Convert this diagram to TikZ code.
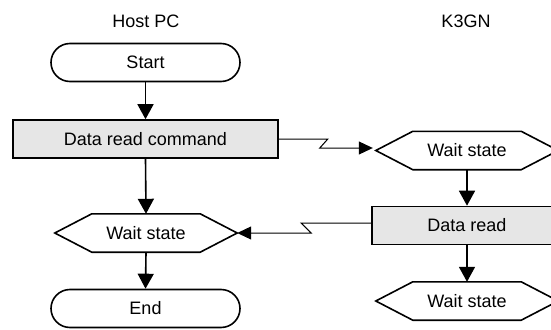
\documentclass[tikz,border=0pt]{standalone}
\usepackage{fontspec}
\setmainfont{Liberation Sans}
\usetikzlibrary{arrows.meta,shapes.misc,calc}
\definecolor{procgray}{RGB}{230,230,230}
\newcommand\hexshape[1]{\draw[hexline] (#1.west) -- ([xshift=37pt]#1.north west) -- ([xshift=-37pt]#1.north east) -- (#1.east) -- ([xshift=-37pt]#1.south east) -- ([xshift=37pt]#1.south west) -- cycle;}
\begin{document}
\begin{tikzpicture}[x=1pt,y=-1pt,
  every node/.style={font=\fontsize{18}{21.6}\selectfont, inner sep=0pt},
  term/.style={rounded rectangle, draw, line width=1.6pt, minimum width=189pt, minimum height=38pt},
  proc/.style={rectangle, draw, line width=1.6pt, fill=procgray, minimum height=38pt},
  hexa/.style={rectangle, minimum width=182pt, minimum height=38pt},
  hexline/.style={draw, line width=1.6pt, line join=miter},
  flow/.style={line width=1.6pt, -{Triangle[width=16pt,length=15pt]}},
  link/.style={line width=1pt, -{Triangle[width=13pt,length=14pt]}}
]
\clip (0,0) rectangle (551,329);
\fill[white] (0,0) rectangle (551,329);

\node (lhost) at (146,21) {Host PC};
\node (lk3gn) at (466,21) {K3GN};

\node[term] (start) at (145.5,62.5) {Start};
\node[proc, minimum width=265pt] (cmd) at (145.5,139) {Data read command};
\node[hexa] (hL) at (146,233) {Wait state};
\node[term] (end) at (145.5,308.5) {End};

\node[hexa] (w1) at (467,150.5) {Wait state};
\node[proc, minimum width=190pt] (dr) at (467,225.5) {Data read};
\node[hexa] (w2) at (467,301) {Wait state};

\hexshape{hL}
\hexshape{w1}
\hexshape{w2}

\draw[flow] (start.south) -- (cmd.north);
\draw[flow] (cmd.south) -- (hL.north);
\draw[flow] (hL.south) -- (end.north);
\draw[flow] (w1.south) -- (dr.north);
\draw[flow] (dr.south) -- (w2.north);

\draw[link] (cmd.east) -- ++(49,0) -- ++(-8,9) -- ($(w1.west)+(-3,-2.5)$);
\draw[link] ([yshift=2.5pt]dr.west) -- ++(-70,0) -- ++(10,10) -- (hL.east);
\end{tikzpicture}
\end{document}
